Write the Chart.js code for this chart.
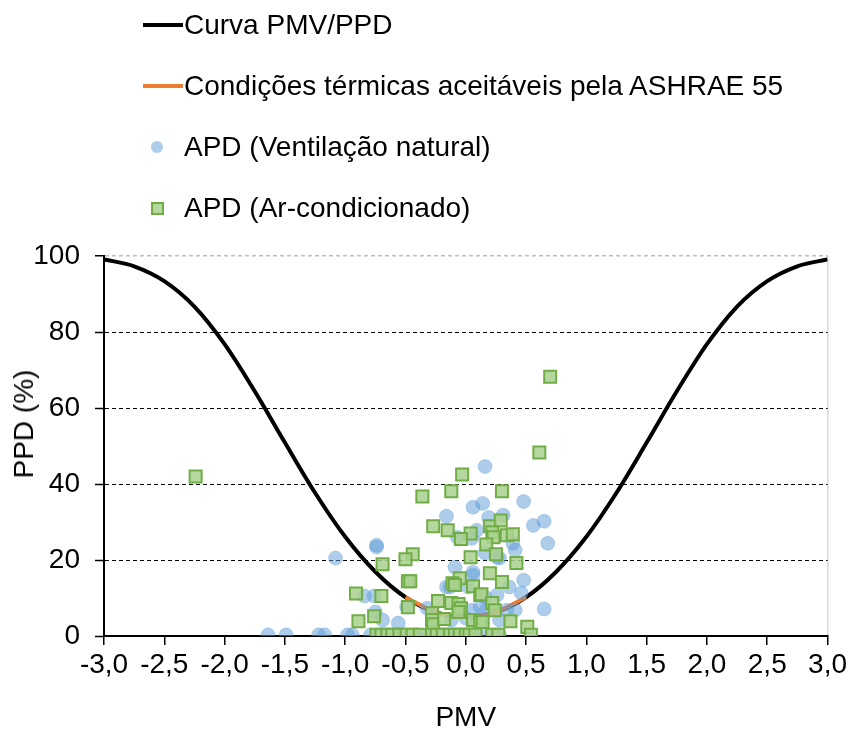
<!DOCTYPE html>
<html>
<head>
<meta charset="utf-8">
<script src="https://cdn.jsdelivr.net/npm/chart.js@4.4.1/dist/chart.umd.min.js"></script>
<style>
body { margin: 0; background: #fff; }
#wrap { position: relative; width: 850px; height: 735px; font-family: "Liberation Sans", Arial, sans-serif; color: #000; }
#legend .item { position: absolute; left: 140px; height: 40px; display: flex; align-items: center; font-size: 28px; white-space: nowrap; }
#legend .sym { width: 44px; height: 40px; position: relative; flex: none; }
#ytitle { position: absolute; left: 24px; top: 424px; transform: translate(-50%, -50%) rotate(-90deg); font-size: 28px; white-space: nowrap; }
</style>
</head>
<body>
<div id="wrap">
  <canvas id="pmvCanvas" width="850" height="735"></canvas>
  <div id="legend"></div>
  <div id="ytitle">PPD (%)</div>
</div>
<script>
// curva PMV/PPD
var curvePmv = [-3, -2.75, -2.5, -2.25, -2, -1.75, -1.5, -1.25, -1, -0.75, -0.5, -0.25, 0,
                0.25, 0.5, 0.75, 1, 1.25, 1.5, 1.75, 2, 2.25, 2.5, 2.75, 3];
var curvePpd = [99.1, 97.3, 93.4, 86.7, 76.8, 64.4, 50.9, 37.7, 26.1, 16.9, 10.2, 6.3, 5,
                6.3, 10.2, 16.9, 26.1, 37.7, 50.9, 64.4, 76.8, 86.7, 93.4, 97.3, 99.1];

// faixa aceitavel ASHRAE 55
var ashraePmv = [-0.5, -0.25, 0, 0.25, 0.5];
var ashraePpd = [10.2, 6.3, 5, 6.3, 10.2];

// APD ventilacao natural
var natPmv = [-1.64, -1.49, -1.22, -1.17, -0.98, -0.94, -0.79, -0.57, -0.55, -0.41, -0.32, -0.16, -0.11, 0.01, 0.06, 0.16, 0.28,
              -1.08, -0.74, -0.74, 0.16, 0.06, 0.14, 0.48, -0.16, 0.19, 0.31, 0.56, 0.65, 0.68,
              -0.07, 0.05, 0.09, 0.39, 0.41, 0.16, 0.26, 0.28, -0.09, 0.06, 0.06,
              0.48, 0.36, 0.46, -0.16, -0.13, 0.02, 0.16, 0.26, -0.84, -0.76,
              -0.75, -0.69, -0.56, -0.49, -0.32, -0.12, 0, 0.05, 0.12, 0.17, 0.28, 0.34, 0.41, 0.65];
var natPpd = [0.3, 0.3, 0.3, 0.3, 0.3, 0.3, 0.3, 0.3, 0.3, 0.3, 0.3, 0.3, 0.3, 0.3, 0.3, 0.3, 0.3,
              20.5, 23.9, 23.4, 44.6, 33.9, 34.9, 35.4, 31.5, 31.2, 31.8, 29.1, 30.2, 24.4,
              26, 25.7, 27.8, 24.4, 22.6, 21.8, 20.7, 20.5, 18.1, 16.8, 16,
              14.7, 12.9, 11.3, 12.9, 12.9, 12.9, 10.2, 10.8, 10.5, 10.5,
              6.3, 4.2, 3.4, 7.6, 7.3, 4.2, 4.7, 6.8, 7.6, 6.8, 4.2, 6.8, 6.8, 7.1];

// APD ar-condicionado
var arPmv = [-2.24, 0.70, 0.61, -0.03, -0.12, -0.36, 0.30,
             -0.27, -0.15, 0.04, -0.04, 0.20, 0.29, 0.22, 0.23, 0.34, 0.39,
             0.17, 0.25, 0.04, -0.44, -0.50, -0.69, 0.42, 0.20, 0.30,
             -0.48, -0.46, -0.05, -0.11, -0.09, 0.06, 0.12, 0.13,
             -0.91, -0.70, -0.23, -0.48, -0.12, -0.06, -0.04, 0.22, 0.24,
             -0.76, -0.89, -0.28, -0.28, -0.27, -0.18, -0.06, 0.06, 0.12, 0.14, 0.37, 0.51, 0.54,
             -0.74, -0.70, -0.65, -0.61, -0.55, -0.49, -0.44, -0.38, -0.28, -0.24, -0.19,
             -0.13, -0.09, -0.05, 0.0, 0.03, 0.08, 0.22, 0.27];
var arPpd = [42, 68.2, 48.3, 42.5, 38.1, 36.7, 38.1,
             28.9, 27.8, 27, 25.5, 28.9, 30.4, 27.3, 26, 26.5, 26.8,
             24.1, 21.5, 20.7, 21.5, 20.2, 18.9, 19.2, 16.5, 14.2,
             14.4, 14.4, 15.2, 13.9, 13.4, 13.1, 10.8, 11,
             11.2, 10.5, 9.2, 7.6, 8.7, 8.4, 7.3, 8.7, 6.8,
             5.2, 3.9, 6, 4.2, 3.1, 4.5, 6.3, 4.2, 3.7, 3.7, 3.9, 2.4, 0.3,
             0.3, 0.3, 0.3, 0.3, 0.3, 0.3, 0.3, 0.3, 0.3, 0.3, 0.3,
             0.3, 0.3, 0.3, 0.3, 0.3, 0.3, 0.3, 0.3];

function toPoints(xs, ys) {
  var pts = [];
  for (let i = 0; i < xs.length; i++) {
    pts.push({ x: xs[i], y: ys[i] });
  }
  return pts;
}

var blueFill = "rgba(91,155,213,0.5)";
var greenFill = "rgba(169,209,142,0.85)";

var datasets = [
  {
    label: "Curva PMV/PPD",
    data: toPoints(curvePmv, curvePpd),
    showLine: true,
    borderColor: "#000000",
    borderWidth: 4,
    pointRadius: 0,
    cubicInterpolationMode: "monotone",
    order: 4
  },
  {
    label: "Condições térmicas aceitáveis pela ASHRAE 55",
    data: toPoints(ashraePmv, ashraePpd),
    showLine: true,
    borderColor: "#ed7d31",
    borderWidth: 4,
    pointRadius: 0,
    cubicInterpolationMode: "monotone",
    order: 3
  },
  {
    label: "APD (Ventilação natural)",
    data: toPoints(natPmv, natPpd),
    pointStyle: "circle",
    pointRadius: 7,
    backgroundColor: blueFill,
    borderColor: "rgba(91,155,213,0.3)",
    borderWidth: 1,
    order: 2
  },
  {
    label: "APD (Ar-condicionado)",
    data: toPoints(arPmv, arPpd),
    pointStyle: "rect",
    pointRadius: 8.5,
    backgroundColor: greenFill,
    borderColor: "#70ad47",
    borderWidth: 2,
    order: 1
  }
];

var fontSpec = { family: "'Liberation Sans', Arial, sans-serif", size: 28 };

var chart = new Chart(document.getElementById("pmvCanvas"), {
  type: "scatter",
  data: { datasets: datasets },
  options: {
    responsive: false,
    animation: false,
    devicePixelRatio: 1,
    layout: { padding: { top: 256, right: 22, left: 0, bottom: 0 } },
    plugins: { legend: { display: false }, tooltip: { enabled: false } },
    scales: {
      x: {
        type: "linear",
        min: -3,
        max: 3,
        afterFit: function (s) { s.height = 99; },
        ticks: {
          stepSize: 0.5,
          color: "#000",
          font: fontSpec,
          padding: 3,
          maxRotation: 0,
          callback: function (v) { return v.toFixed(1).replace(".", ","); }
        },
        grid: {
          color: function (c) { return c.tick && c.tick.value === 3 ? "#d9d9d9" : "rgba(0,0,0,0)"; },
          tickColor: "#000",
          tickLength: 9,
          tickWidth: 1.5,
          lineWidth: 1.5
        },
        border: { color: "#000", width: 2 },
        title: { display: true, text: "PMV", color: "#000", font: fontSpec, padding: { top: 0, bottom: 0 } }
      },
      y: {
        min: 0,
        max: 100,
        afterFit: function (s) { s.width = 104; },
        ticks: { stepSize: 20, color: "#000", font: fontSpec, padding: 15 },
        grid: {
          color: function (c) {
            if (!c.tick) return "#000";
            if (c.tick.value === 100) return "#bfbfbf";
            if (c.tick.value === 0) return "rgba(0,0,0,0)";
            return "#000";
          },
          tickColor: "#000",
          tickLength: 9,
          tickWidth: 1.5,
          lineWidth: function (c) { return c.tick && c.tick.value === 100 ? 1.5 : 1; }
        },
        border: {
          color: "#000",
          width: 2,
          dash: function (c) { return c.tick && c.tick.value > 0 ? [4, 3] : []; }
        }
      }
    }
  }
});

// legenda em HTML, uma entrada por linha
var legendTops = [5, 66, 127, 188];
var legendDiv = document.getElementById("legend");
for (let i = 0; i < chart.data.datasets.length; i++) {
  var ds = chart.data.datasets[i];
  var item = document.createElement("div");
  item.className = "item";
  item.style.top = legendTops[i] + "px";
  var sym = document.createElement("div");
  sym.className = "sym";
  var mark = document.createElement("div");
  mark.style.position = "absolute";
  if (ds.showLine) {
    mark.style.left = "3px"; mark.style.top = "18px";
    mark.style.width = "40px"; mark.style.height = "4px";
    mark.style.background = ds.borderColor;
  } else if (ds.pointStyle === "circle") {
    mark.style.left = "11px"; mark.style.top = "14px";
    mark.style.width = "12px"; mark.style.height = "12px";
    mark.style.borderRadius = "50%";
    mark.style.background = ds.backgroundColor;
  } else {
    mark.style.left = "11px"; mark.style.top = "14px";
    mark.style.width = "9px"; mark.style.height = "9px";
    mark.style.background = ds.backgroundColor;
    mark.style.border = "2px solid " + ds.borderColor;
  }
  sym.appendChild(mark);
  item.appendChild(sym);
  var txt = document.createElement("span");
  txt.textContent = ds.label;
  item.appendChild(txt);
  legendDiv.appendChild(item);
}
</script>
</body>
</html>
